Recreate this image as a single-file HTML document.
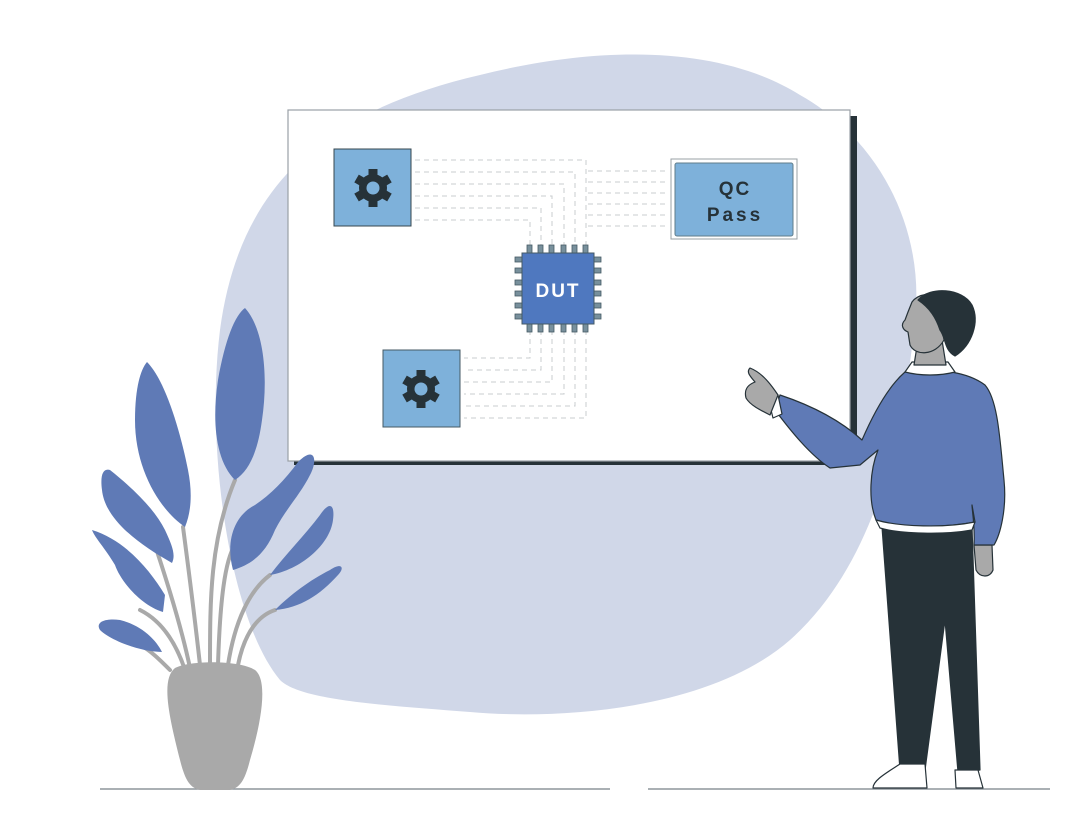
<!DOCTYPE html>
<html><head><meta charset="utf-8"><style>
html,body{margin:0;padding:0;background:#fff;}
svg{display:block;}
text{font-family:"Liberation Sans","DejaVu Sans",sans-serif;font-weight:bold;}
</style></head><body>
<svg width="1082" height="815" viewBox="0 0 1082 815" xmlns="http://www.w3.org/2000/svg">
<path d="M280,680 C230,620 205,450 220,330 C240,180 330,110 480,75 C600,45 720,45 800,95 C880,140 925,230 915,320 C905,420 880,560 790,640 C710,710 560,720 470,712 C380,705 300,700 280,680 Z" fill="#d0d7e8"/>
<line x1="100" y1="789" x2="610" y2="789" stroke="#8e959b" stroke-width="1.5"/>
<line x1="648" y1="789" x2="1050" y2="789" stroke="#8e959b" stroke-width="1.5"/>
<rect x="294" y="116" width="563" height="349" fill="#263238"/>
<rect x="288" y="110" width="562" height="351" fill="#fff" stroke="#9aa0a6" stroke-width="1.2"/>
<g fill="none" stroke="#c8cccf" stroke-width="1" stroke-dasharray="5,4">
<path d="M415,160 H586 V248"/>
<path d="M415,172 H575 V248"/>
<path d="M415,184 H564 V248"/>
<path d="M415,196 H552 V248"/>
<path d="M415,208 H541 V248"/>
<path d="M415,220 H530 V248"/>
<path d="M588,171 H668"/><path d="M588,182 H668"/><path d="M588,193 H668"/>
<path d="M588,204 H668"/><path d="M588,215 H668"/><path d="M588,226 H668"/>
<path d="M530,330 V358 H464"/>
<path d="M541,330 V370 H464"/>
<path d="M552,330 V382 H464"/>
<path d="M564,330 V394 H464"/>
<path d="M575,330 V406 H464"/>
<path d="M586,330 V418 H464"/>
</g>
<rect x="334" y="149" width="77" height="77" fill="#7eb1da" stroke="#37474f" stroke-width="1"/>
<rect x="383" y="350" width="77" height="77" fill="#7eb1da" stroke="#455a64" stroke-width="1"/>
<g fill="#263238">
<g transform="translate(373,188)">
<circle r="14"/>
<g><rect x="-4.5" y="-19" width="9" height="38"/><rect x="-4.5" y="-19" width="9" height="38" transform="rotate(60)"/><rect x="-4.5" y="-19" width="9" height="38" transform="rotate(120)"/></g>
<circle r="6.5" fill="#7eb1da"/>
</g>
<g transform="translate(421,389)">
<circle r="14"/>
<g><rect x="-4.5" y="-19" width="9" height="38"/><rect x="-4.5" y="-19" width="9" height="38" transform="rotate(60)"/><rect x="-4.5" y="-19" width="9" height="38" transform="rotate(120)"/></g>
<circle r="6.5" fill="#7eb1da"/>
</g>
</g>
<rect x="671" y="159" width="126" height="80" fill="#fff" stroke="#9aa0a6" stroke-width="1"/>
<rect x="675" y="163" width="118" height="73" rx="2" fill="#7eb1da" stroke="#607d8b" stroke-width="1"/>
<text x="735" y="195" font-size="19" text-anchor="middle" fill="#263238" letter-spacing="2">QC</text>
<text x="735" y="221" font-size="19" text-anchor="middle" fill="#263238" letter-spacing="3">Pass</text>
<g fill="#78909c" stroke="#455a64" stroke-width="0.8">
<rect x="527" y="245" width="5" height="9"/><rect x="538" y="245" width="5" height="9"/><rect x="549" y="245" width="5" height="9"/><rect x="561" y="245" width="5" height="9"/><rect x="572" y="245" width="5" height="9"/><rect x="583" y="245" width="5" height="9"/>
<rect x="527" y="323" width="5" height="9"/><rect x="538" y="323" width="5" height="9"/><rect x="549" y="323" width="5" height="9"/><rect x="561" y="323" width="5" height="9"/><rect x="572" y="323" width="5" height="9"/><rect x="583" y="323" width="5" height="9"/>
<rect x="515" y="257" width="9" height="5"/><rect x="515" y="268" width="9" height="5"/><rect x="515" y="280" width="9" height="5"/><rect x="515" y="291" width="9" height="5"/><rect x="515" y="303" width="9" height="5"/><rect x="515" y="314" width="9" height="5"/>
<rect x="592" y="257" width="9" height="5"/><rect x="592" y="268" width="9" height="5"/><rect x="592" y="280" width="9" height="5"/><rect x="592" y="291" width="9" height="5"/><rect x="592" y="303" width="9" height="5"/><rect x="592" y="314" width="9" height="5"/>
</g>
<rect x="522" y="253" width="72" height="71" fill="#4f78bf" stroke="#455a64" stroke-width="1"/>
<text x="558" y="297" font-size="19" text-anchor="middle" fill="#fff" letter-spacing="2">DUT</text>
<g fill="none" stroke="#a9a9a9" stroke-width="4" stroke-linecap="round">
<path d="M185,670 C175,640 160,620 140,610"/>
<path d="M190,668 C180,620 160,560 150,530"/>
<path d="M200,665 C195,620 190,580 183,527"/>
<path d="M210,665 C210,600 210,540 235,480"/>
<path d="M218,665 C220,600 225,560 235,545"/>
<path d="M228,665 C235,620 250,590 270,575"/>
<path d="M238,665 C245,630 260,615 275,610"/>
<path d="M170,670 C160,660 150,650 140,645"/>
</g>
<g fill="#5f7ab6">
<path d="M185,527 C160,510 135,470 135,420 C135,390 140,370 147,362 C165,380 180,430 188,470 C192,490 192,510 185,527 Z"/>
<path d="M235,480 C215,460 212,420 218,380 C225,340 235,315 245,308 C265,330 268,380 262,420 C258,450 250,470 235,480 Z"/>
<path d="M172,563 C140,545 105,520 102,490 C100,475 103,468 110,470 C135,490 155,510 165,530 C172,545 176,555 172,563 Z"/>
<path d="M163,612 C140,605 120,580 115,565 C105,548 95,538 92,530 C125,540 150,570 165,595 Z"/>
<path d="M162,652 C140,652 110,640 100,630 C95,622 105,618 120,620 C140,625 155,638 162,652 Z"/>
<path d="M233,570 C225,540 235,515 255,505 C270,495 285,480 298,462 C315,445 318,460 310,475 C300,495 285,510 275,530 C265,555 250,565 233,570 Z"/>
<path d="M270,575 C285,555 305,535 320,515 C330,500 335,505 333,520 C330,545 300,570 270,575 Z"/>
<path d="M275,610 C290,595 310,580 330,570 C342,562 345,568 338,575 C320,595 300,608 275,610 Z"/>
</g>
<path d="M175,668 C190,660 240,660 255,670 C268,680 262,720 250,760 C245,780 240,788 230,790 L200,790 C190,788 185,780 180,760 C170,720 160,680 175,668 Z" fill="#a9a9a9"/>
<g stroke="#263238" stroke-width="1.2" stroke-linejoin="round">
<path d="M882,527 L972,527 L980,770 L958,772 L945,620 L925,770 L900,770 Z" fill="#263238"/>
<path d="M900,764 L925,764 L927,788 L873,788 C873,780 888,772 900,764 Z" fill="#fff"/>
<path d="M955,770 L978,770 L983,788 L956,788 Z" fill="#fff"/>
<path d="M974,545 L992,545 L993,570 C990,578 980,578 976,570 Z" fill="#a9a9a9"/>
<path d="M905,372 C930,368 965,370 985,385 C998,400 1000,440 1004,480 C1007,510 1000,535 994,545 L974,545 C975,525 972,510 972,505 L975,522 C945,528 900,528 876,520 C868,500 870,470 878,450 L860,465 L830,468 C810,455 790,430 775,410 L780,395 C810,405 840,420 862,440 C875,410 890,385 905,372 Z" fill="#5f7ab6"/>
<path d="M876,520 C900,527 945,528 975,522 L972,530 C945,535 900,534 880,528 Z" fill="#fff"/>
<path d="M905,372 L912,362 L948,362 L955,372 C940,376 920,376 905,372 Z" fill="#fff"/>
<path d="M768,398 L778,395 L782,414 L773,418 Z" fill="#fff"/>
<path d="M750,368 C760,372 768,380 778,395 L770,415 C760,410 750,405 746,398 C744,390 747,385 755,382 C750,376 746,372 750,368 Z" fill="#a9a9a9"/>
<path d="M918,340 L942,340 L946,365 L914,365 Z" fill="#a9a9a9"/>
<path d="M912,302 C918,294 930,292 940,298 L944,340 C935,356 915,356 910,345 L908,332 C903,330 900,325 905,320 L908,312 Z" fill="#a9a9a9"/>
<path d="M918,300 C930,286 962,288 972,305 C980,322 972,345 955,356 C944,350 946,338 940,330 C936,318 930,308 918,300 Z" fill="#263238"/>
</g>
</svg>
</body></html>
